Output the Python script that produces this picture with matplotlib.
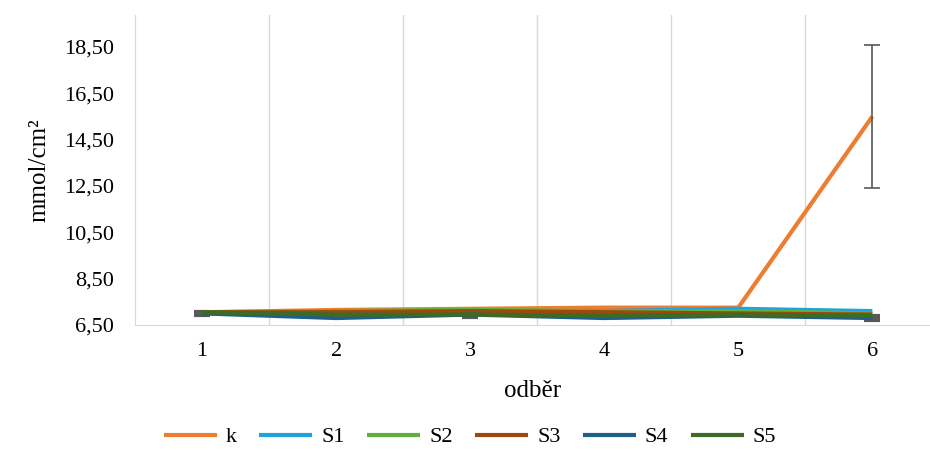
import matplotlib.pyplot as plt
import numpy as np

plt.rcParams['font.family'] = ['Liberation Serif', 'DejaVu Serif']

odber = [1, 2, 3, 4, 5, 6]
k = [7.05, 7.15, 7.2, 7.25, 7.25, 15.5]
s1 = [7.05, 7.0, 7.1, 7.1, 7.2, 7.1]
s2 = [7.05, 7.1, 7.15, 7.1, 7.1, 7.0]
s3 = [7.05, 7.05, 7.1, 7.05, 7.0, 6.95]
s4 = [7.0, 6.8, 6.95, 6.8, 6.9, 6.8]
s5 = [7.05, 6.95, 6.95, 6.9, 6.95, 6.9]
k_err = [np.nan, np.nan, np.nan, np.nan, np.nan, 3.07]
s4_err = [0.05, np.nan, 0.12, np.nan, np.nan, 0.1]

series = [("k", k, "#ED7D31"), ("S1", s1, "#1FA2E0"), ("S2", s2, "#5DB33A"),
          ("S3", s3, "#9E480E"), ("S4", s4, "#1F5F8B"), ("S5", s5, "#3E6B23")]

fig = plt.figure(figsize=(9.3, 4.5), dpi=100)
ax = fig.add_axes([135 / 930, 1 - 325 / 450, 1 - 135 / 930, (325 - 15) / 450])

x = np.array(odber)
for name, vals, col in series:
    ax.plot(x, vals, color=col, lw=3, label=name, solid_capstyle='butt', zorder=3)

ax.errorbar(x, k, yerr=k_err, fmt='none', ecolor='#595959', elinewidth=1.2,
            capsize=6, capthick=1.2, zorder=4)
ax.errorbar(x, s4, yerr=s4_err, fmt='none', ecolor='#595959', elinewidth=3,
            capsize=6, capthick=3, zorder=2)

ax.set_xlim(0.5, 6.43)
ax.set_ylim(6.5, 19.88)
ax.set_xticks(odber)
yt = np.arange(6.5, 19, 2)
ax.set_yticks(yt)
ax.set_yticklabels([f"{v:.2f}".replace('.', ',') for v in yt])
for g in [1.5, 2.5, 3.5, 4.5, 5.5]:
    ax.axvline(g, color='#D9D9D9', lw=1, zorder=1)
ax.tick_params(length=0, labelsize=16, colors='black')
ax.tick_params(axis='x', pad=12)
ax.tick_params(axis='y', pad=15)
for s in ['top', 'right']:
    ax.spines[s].set_visible(False)
for s in ['left', 'bottom']:
    ax.spines[s].set_color('#D9D9D9')

ax.set_ylabel("mmol/cm²", fontsize=18, labelpad=10)
ax.set_xlabel("odběr", fontsize=18, labelpad=14)

fig.legend(loc='center', bbox_to_anchor=(470 / 930, 1 - 437 / 450), ncol=6,
           frameon=False, fontsize=16, handlelength=2.4, columnspacing=1.0,
           handletextpad=0.4)

fig.savefig("out.png", dpi=100)
